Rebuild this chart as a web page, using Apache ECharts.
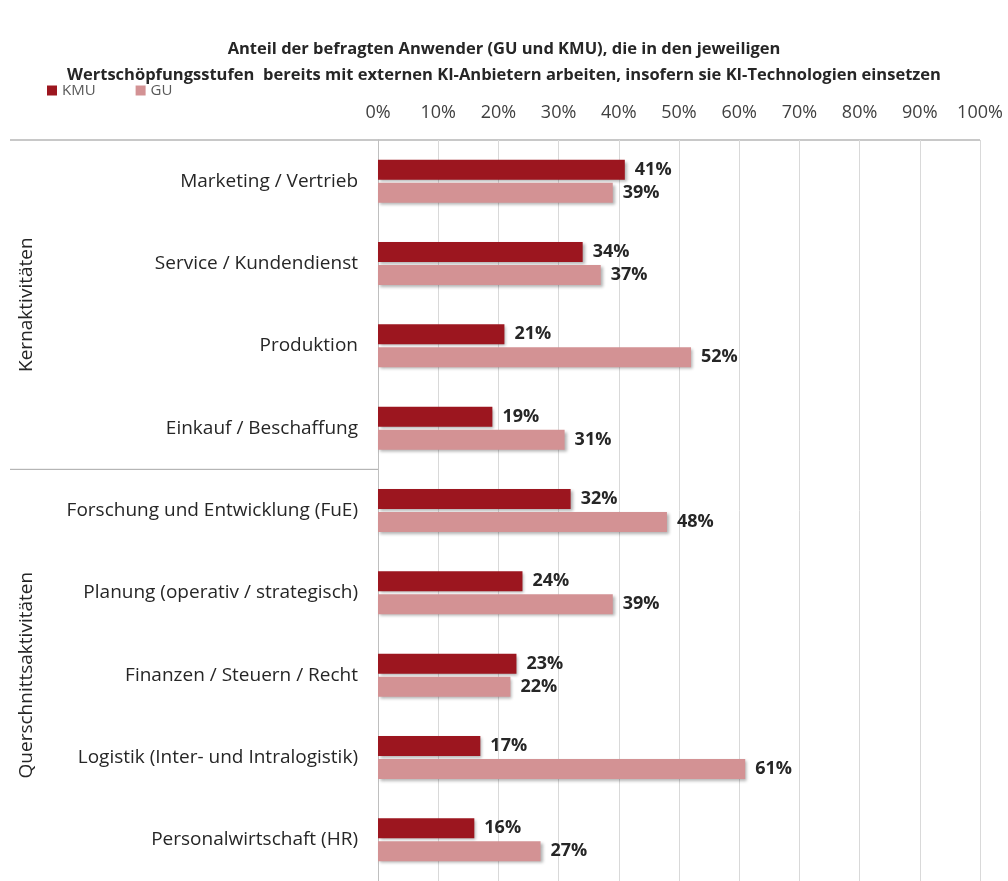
<!DOCTYPE html>
<html>
<head>
<meta charset="utf-8">
<script src="https://cdn.jsdelivr.net/npm/echarts@6/dist/echarts.min.js"></script>
<style>
  html, body { margin: 0; padding: 0; background: #fff; }
  #chart { width: 1008px; height: 881px; }
</style>
</head>
<body>
<div id="chart"></div>
<script>
// Kategorien (Wertschöpfungsstufen)
const categories = [
  'Marketing / Vertrieb',
  'Service / Kundendienst',
  'Produktion',
  'Einkauf / Beschaffung',
  'Forschung und Entwicklung (FuE)',
  'Planung (operativ / strategisch)',
  'Finanzen / Steuern / Recht',
  'Logistik (Inter- und Intralogistik)',
  'Personalwirtschaft (HR)'
]
const kmuValues = [41, 34, 21, 19, 32, 24, 23, 17, 16]
const guValues = [39, 37, 52, 31, 48, 39, 22, 61, 27]
const groupNames = ['Kernaktivitäten', 'Querschnittsaktivitäten']

const FONT = "'Open Sans', 'Noto Sans', sans-serif"
const gridTop = 140
const gridHeight = 741
const band = gridHeight / categories.length

let chart = echarts.init(document.getElementById('chart'))

// gemeinsame Balken-Optik
function barSeries(name, data, color) {
  return {
    name: name,
    type: 'bar',
    data: data,
    barWidth: 20,
    barGap: '15%',
    itemStyle: {
      color: color,
      shadowColor: 'rgba(0,0,0,0.3)',
      shadowBlur: 3,
      shadowOffsetX: 2,
      shadowOffsetY: 2,
    },
    label: {
      show: true,
      position: 'right',
      distance: 10,
      formatter: '{c}%',
      color: '#262626',
      fontWeight: 'bold',
      fontSize: 18,
      fontFamily: FONT,
    },
  }
}

let option = {
  animation: false,
  title: {
    text: 'Anteil der befragten Anwender (GU und KMU), die in den jeweiligen\nWertschöpfungsstufen  bereits mit externen KI-Anbietern arbeiten, insofern sie KI-Technologien einsetzen',
    left: 'center',
    top: 31,
    textStyle: {
      fontFamily: FONT,
      fontSize: 16.5,
      fontWeight: 'bold',
      color: '#262626',
      lineHeight: 26,
    },
  },
  legend: {
    left: 42,
    top: 78,
    itemWidth: 10,
    itemHeight: 10,
    itemGap: 40,
    icon: 'rect',
    textStyle: { fontFamily: FONT, fontSize: 15, color: '#595959' },
    data: ['KMU', 'GU'],
  },
  grid: {
    left: 378,
    right: 28,
    top: gridTop,
    height: gridHeight,
    containLabel: false,
  },
  xAxis: {
    type: 'value',
    position: 'top',
    min: 0,
    max: 100,
    interval: 10,
    axisLine: { show: false },
    axisTick: { show: false },
    splitLine: { lineStyle: { color: '#d9d9d9' } },
    axisLabel: {
      formatter: '{value}%',
      margin: 18,
      fontFamily: FONT,
      fontSize: 18,
      color: '#404040',
    },
  },
  yAxis: {
    type: 'category',
    inverse: true,
    data: categories,
    axisLine: { show: true, lineStyle: { color: '#bfbfbf' } },
    axisTick: { show: false },
    axisLabel: {
      margin: 20,
      fontFamily: FONT,
      fontSize: 19,
      color: '#262626',
    },
  },
  series: [
    barSeries('KMU', kmuValues, '#9c161f'),
    barSeries('GU', guValues, '#d39294'),
  ],
  graphic: [
    {
      type: 'line',
      shape: { x1: 10, y1: gridTop, x2: 980, y2: gridTop },
      style: { stroke: '#c8c8c8', lineWidth: 2 },
    },
    {
      type: 'line',
      shape: { x1: 10, y1: gridTop + 4 * band, x2: 378, y2: gridTop + 4 * band },
      style: { stroke: '#a6a6a6', lineWidth: 1 },
    },
    {
      type: 'text',
      x: 27,
      y: gridTop + 2 * band,
      rotation: Math.PI / 2,
      style: {
        text: groupNames[0],
        font: '19px ' + FONT,
        fill: '#262626',
        align: 'center',
        verticalAlign: 'middle',
      },
    },
    {
      type: 'text',
      x: 27,
      y: gridTop + 6.5 * band,
      rotation: Math.PI / 2,
      style: {
        text: groupNames[1],
        font: '19px ' + FONT,
        fill: '#262626',
        align: 'center',
        verticalAlign: 'middle',
      },
    },
  ],
}
chart.setOption(option)
</script>
</body>
</html>
